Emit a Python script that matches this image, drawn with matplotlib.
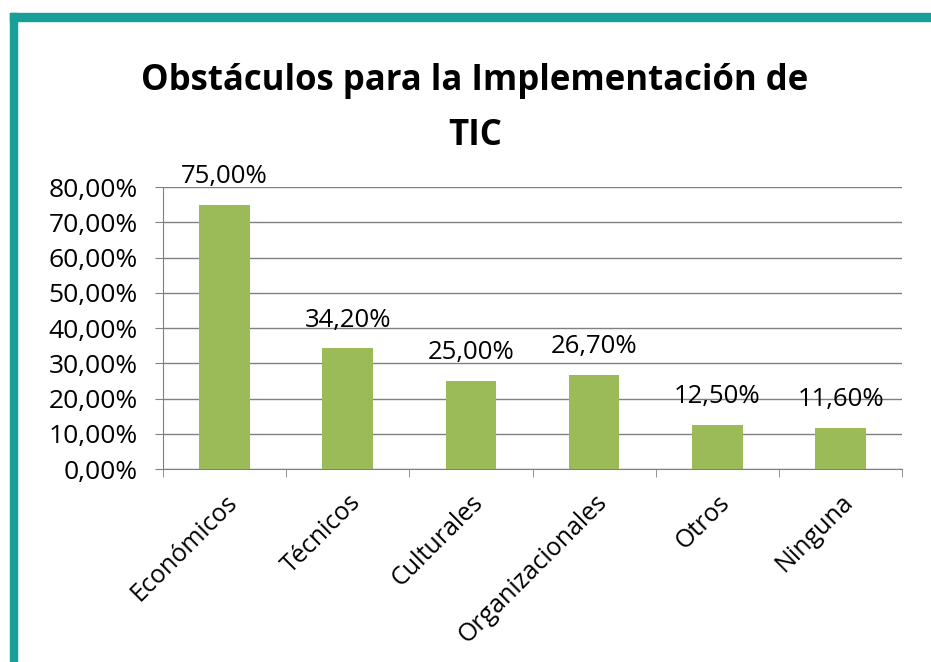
import matplotlib.pyplot as plt
from matplotlib.patches import Rectangle
import numpy as np

# Data
categories = ['Económicos', 'Técnicos', 'Culturales', 'Organizacionales', 'Otros', 'Ninguna']
values = [75.00, 34.20, 25.00, 26.70, 12.50, 11.60]
title = 'Obstáculos para la Implementación de\nTIC'

plt.rcParams['font.family'] = ['Open Sans', 'DejaVu Sans']

fig = plt.figure(figsize=(9.31, 6.62), dpi=100)
ax = fig.add_axes([0.175, 0.2915, 0.794, 0.426])

# teal frame on top and left
fig.patches.append(Rectangle((10 / 931, 0), 7 / 931, 1 - 13 / 662, transform=fig.transFigure,
                             color='#17a09a', zorder=0))
fig.patches.append(Rectangle((10 / 931, 1 - 21 / 662), 1, 8 / 662, transform=fig.transFigure,
                             color='#17a09a', zorder=0))

x = np.arange(len(categories))
ax.bar(x, values, width=0.41, color='#9bbb59', zorder=3)
for xi, v in zip(x, values):
    ax.text(xi, v + 4.5, f'{v:.2f}%'.replace('.', ','), ha='center', va='bottom', fontsize=18.5)

ax.set_xlim(-0.5, len(categories) - 0.5)
ax.set_ylim(0, 80)
ax.set_yticks(np.arange(0, 81, 10))
ax.set_yticklabels([f'{t:.2f}%'.replace('.', ',') for t in np.arange(0, 81, 10)], fontsize=19)
ax.set_xticks(x)
ax.set_xticklabels(categories, rotation=45, ha='right', rotation_mode='anchor', fontsize=18)
ax.tick_params(axis='x', length=0, pad=15)
ax.set_xticks(np.arange(-0.5, len(categories)), minor=True)
ax.tick_params(axis='x', which='minor', length=6, color='#808080')
ax.tick_params(axis='y', length=6, color='#808080', pad=12)
ax.grid(axis='y', color='#808080', linewidth=1, zorder=0)
for s in ['top', 'right']:
    ax.spines[s].set_visible(False)
for s in ['left', 'bottom']:
    ax.spines[s].set_color('#808080')

fig.text(0.51, 0.836, title, ha='center', va='center', fontsize=25, fontweight='bold',
         linespacing=1.68)

fig.savefig('out.png', dpi=100)
